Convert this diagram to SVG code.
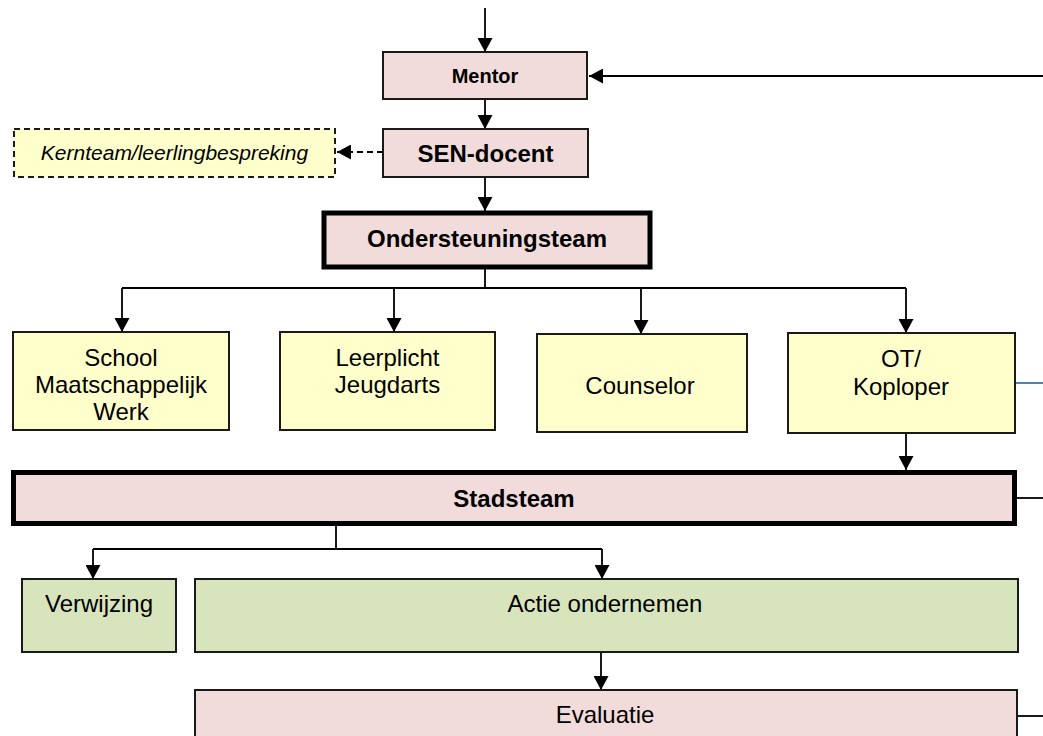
<svg xmlns="http://www.w3.org/2000/svg" width="1043" height="736" viewBox="0 0 1043 736">
<defs>
<style>
.pink{fill:#F2DCDB;stroke:#1a1a1a;stroke-width:2}
.yel{fill:#FFFFCC;stroke:#1a1a1a;stroke-width:2}
.grn{fill:#D8E4BC;stroke:#1a1a1a;stroke-width:2}
.thick{stroke-width:5;stroke:#000}
.dash{stroke-dasharray:6 4}
text{font-family:"Liberation Sans",Arial,sans-serif;font-size:24px;fill:#000;text-anchor:middle}
.b{font-weight:bold}
.i{font-style:italic;font-size:21px}
.con{fill:none;stroke:#000;stroke-width:1.8}
</style>
<marker id="ah" viewBox="0 0 14 15" refX="14" refY="7.5" markerWidth="14" markerHeight="15" markerUnits="userSpaceOnUse" orient="auto">
<path d="M0,0 L14,7.5 L0,15 Z" fill="#000"/>
</marker>
</defs>
<rect width="1043" height="736" fill="#fff"/>
<g id="connectors">
<path class="con" d="M485,8 V52" marker-end="url(#ah)"/>
<path class="con" d="M1043,76 H589" marker-end="url(#ah)"/>
<path class="con" d="M485,99 V129" marker-end="url(#ah)"/>
<path class="con dash" d="M383,152 H337" marker-end="url(#ah)"/>
<path class="con" d="M485,177 V211" marker-end="url(#ah)"/>
<path class="con" d="M485,267 V288 M122,288 H906"/>
<path class="con" d="M122,288 V332" marker-end="url(#ah)"/>
<path class="con" d="M394,288 V332" marker-end="url(#ah)"/>
<path class="con" d="M641,288 V334" marker-end="url(#ah)"/>
<path class="con" d="M906,288 V333" marker-end="url(#ah)"/>
<path class="con" d="M906,433 V470" marker-end="url(#ah)"/>
<path d="M1016,383 H1043" stroke="#4F81BD" stroke-width="2" fill="none"/>
<path class="con" d="M1016,498 H1043"/>
<path class="con" d="M336,526 V549 M93,549 H602"/>
<path class="con" d="M93,549 V579" marker-end="url(#ah)"/>
<path class="con" d="M602,549 V579" marker-end="url(#ah)"/>
<path class="con" d="M601,652 V690" marker-end="url(#ah)"/>
<path class="con" d="M1017,716 H1043"/>
</g>
<g id="mentor"><rect class="pink" x="383" y="52" width="204" height="47"/><text class="b" x="485" y="83" style="font-size:20px">Mentor</text></g>
<g id="sen-docent"><rect class="pink" x="383" y="129" width="205" height="48"/><text class="b" x="485.5" y="162">SEN-docent</text></g>
<g id="kernteam"><rect class="yel dash" x="14" y="129" width="321" height="48"/><text class="i" x="174.5" y="160">Kernteam/leerlingbespreking</text></g>
<g id="ondersteuningsteam"><rect class="pink thick" x="324" y="213" width="326" height="54"/><text class="b" x="487" y="247">Ondersteuningsteam</text></g>
<g id="school"><rect class="yel" x="13" y="332" width="216" height="98"/><text x="121" y="366">School</text><text x="121" y="393">Maatschappelijk</text><text x="121" y="420">Werk</text></g>
<g id="leerplicht"><rect class="yel" x="280" y="332" width="215" height="98"/><text x="387.5" y="366">Leerplicht</text><text x="387.5" y="393">Jeugdarts</text></g>
<g id="counselor"><rect class="yel" x="537" y="334" width="210" height="98"/><text x="640" y="394">Counselor</text></g>
<g id="ot-koploper"><rect class="yel" x="788" y="333" width="227" height="100"/><text x="901" y="367">OT/</text><text x="901" y="395">Koploper</text></g>
<g id="stadsteam"><rect class="pink thick" x="13.5" y="472.5" width="1001" height="51"/><text class="b" x="514" y="507">Stadsteam</text></g>
<g id="verwijzing"><rect class="grn" x="22" y="579" width="154" height="73"/><text x="99" y="612">Verwijzing</text></g>
<g id="actie"><rect class="grn" x="195" y="579" width="823" height="73"/><text x="605" y="612">Actie ondernemen</text></g>
<g id="evaluatie"><rect class="pink" x="195" y="690" width="822" height="60"/><text x="605" y="723">Evaluatie</text></g>
</svg>
